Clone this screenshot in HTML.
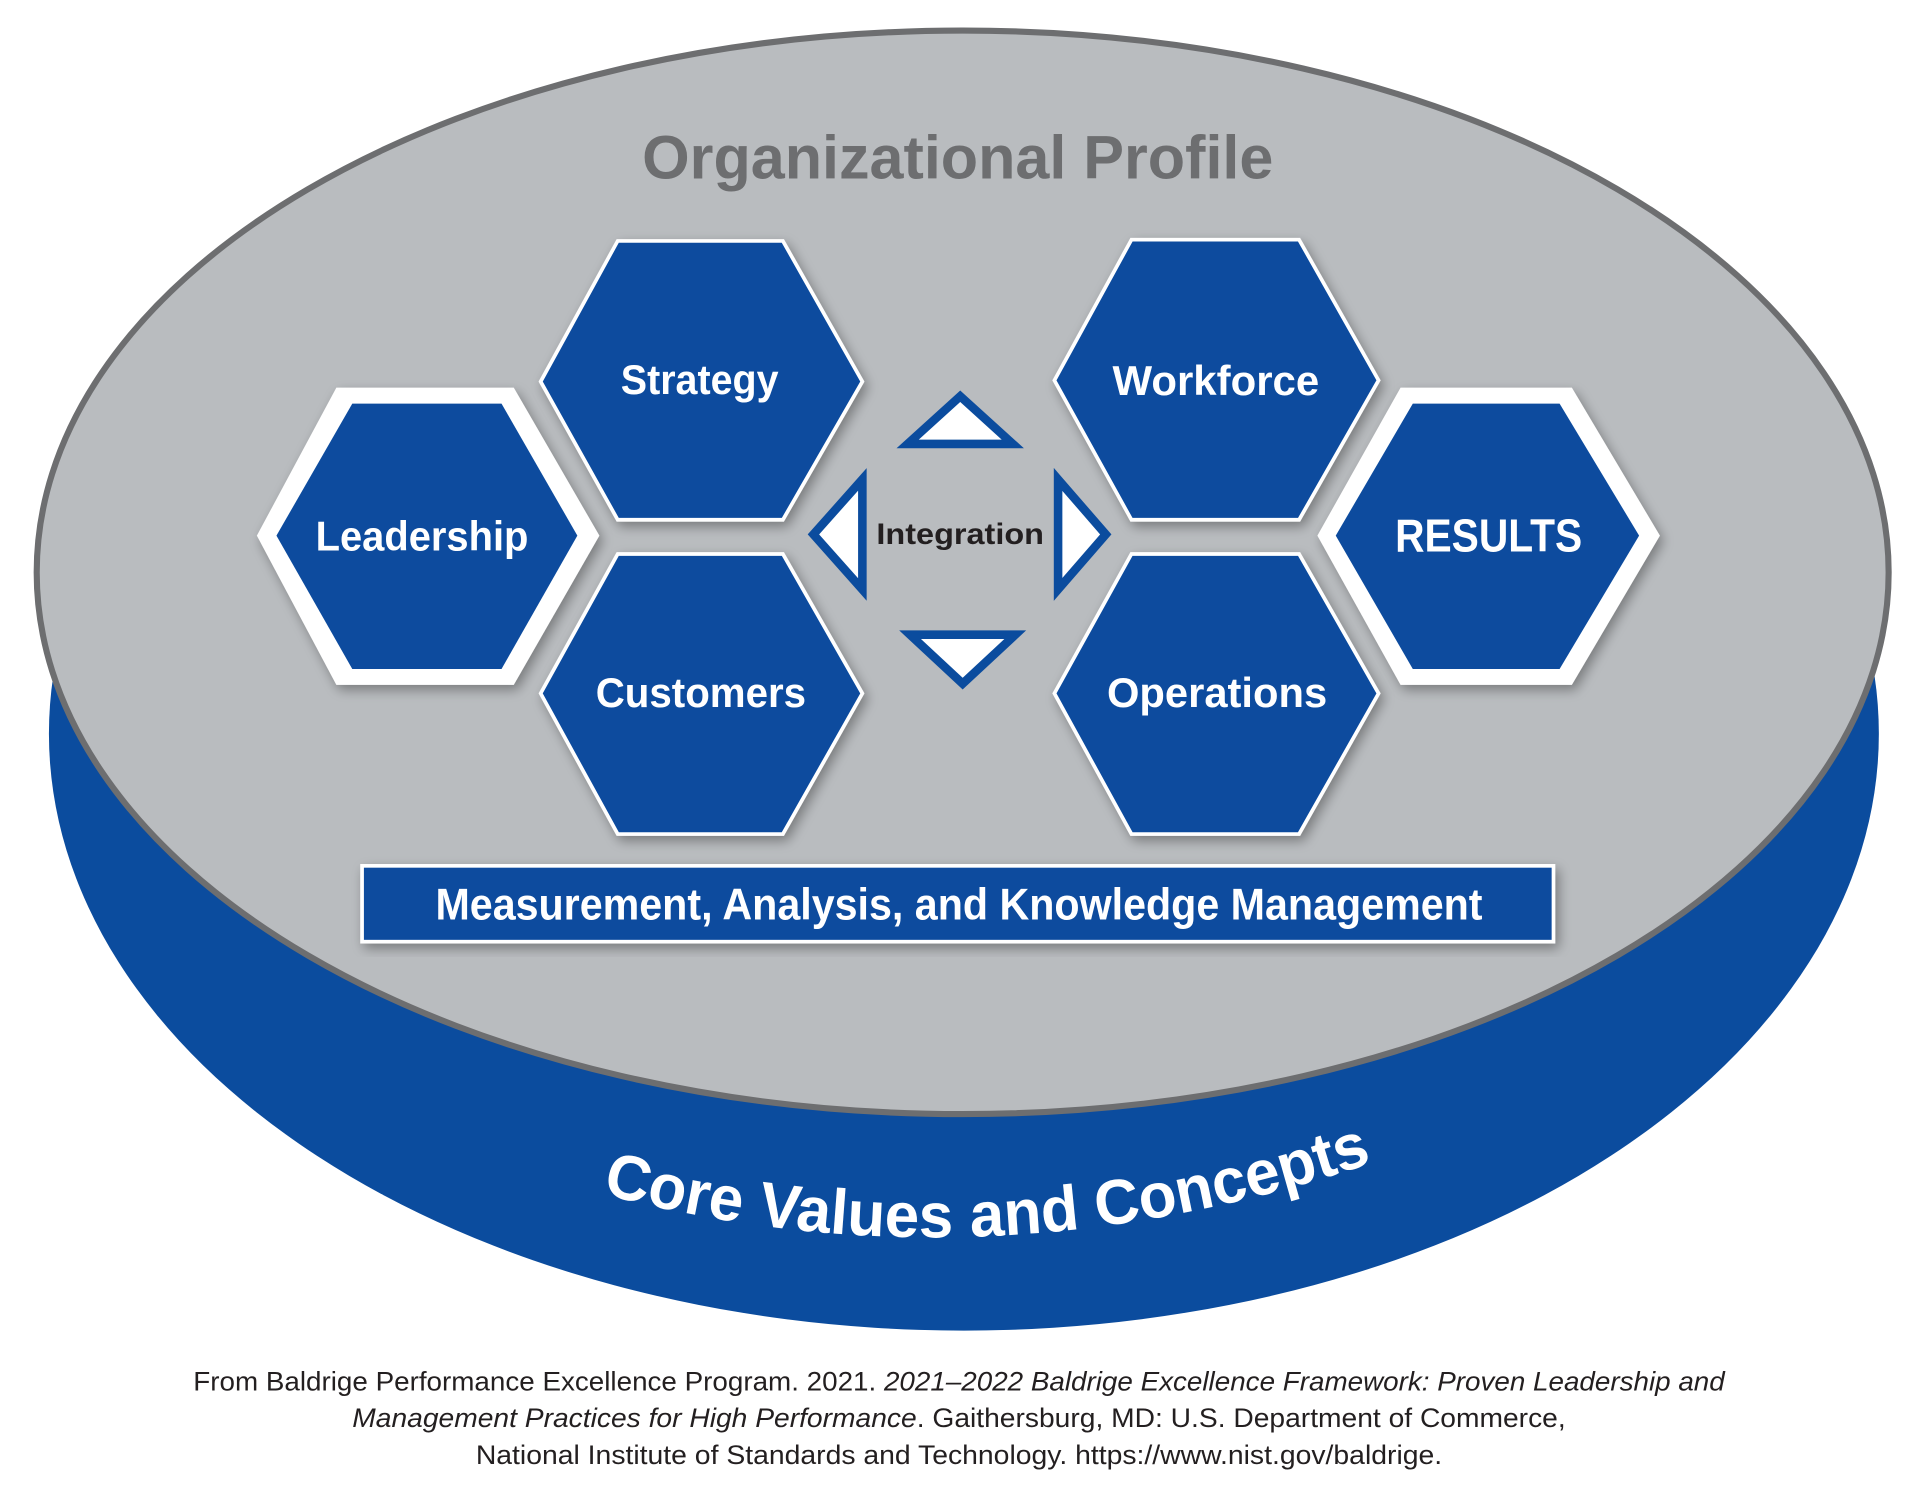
<!DOCTYPE html>
<html><head><meta charset="utf-8"><style>
html,body{margin:0;padding:0;background:#fff;width:1918px;height:1492px;overflow:hidden}
svg{display:block}
text{font-family:"Liberation Sans",sans-serif}
</style></head><body>
<svg width="1918" height="1492" viewBox="0 0 1568 1220" preserveAspectRatio="none" xmlns="http://www.w3.org/2000/svg">
<defs>
<filter id="sh" x="-20%" y="-20%" width="140%" height="140%"><feGaussianBlur in="SourceAlpha" stdDeviation="5"/><feOffset dx="3" dy="4"/><feComponentTransfer><feFuncA type="linear" slope="0.35"/></feComponentTransfer><feMerge><feMergeNode/><feMergeNode in="SourceGraphic"/></feMerge></filter>
<path id="arc" d="M 492 976 Q 800 1058 1118 952" fill="none"/>
</defs>
<rect width="1568" height="1220" fill="#fff"/>
<ellipse cx="788" cy="600" rx="748" ry="488" fill="#0b4c9e"/>
<ellipse cx="787" cy="468" rx="757" ry="443" fill="#b9bcbf" stroke="#6d6e70" stroke-width="5"/>
<text x="783" y="146" text-anchor="middle" font-size="50" font-weight="bold" fill="#6d6e70" textLength="516" lengthAdjust="spacingAndGlyphs">Organizational Profile</text>

<g fill="#0b4c9e" stroke="#fff" stroke-width="3" filter="url(#sh)">
<polygon points="442,312 505,197 640,197 705,312 640,425 505,425"/>
<polygon points="442,567 505,453 640,453 705,567 640,682 505,682"/>
<polygon points="862,311 925,196 1062,196 1127,311 1062,425 925,425"/>
<polygon points="862,567 925,453 1062,453 1127,567 1062,682 925,682"/>
</g>
<g filter="url(#sh)">
<polygon points="210,438 275,317 420,317 490,438 420,560 275,560" fill="#fff"/>
<polygon points="226,438 288,330 410,330 472,438 410,547 288,547" fill="#0b4c9e"/>
<polygon points="1077,438 1145,317 1285,317 1357,438 1285,560 1145,560" fill="#fff"/>
<polygon points="1092,438 1155,330 1275,330 1340,438 1275,547 1155,547" fill="#0b4c9e"/>
</g>

<g fill="#fff" stroke="#0b4c9e" stroke-width="7" stroke-linejoin="miter">
<polygon points="785,324 742,363 828,363"/>
<polygon points="744,519 830,519 787,559"/>
<polygon points="705,392 665,437 705,482"/>
<polygon points="865,392 904,437 865,482"/>
</g>
<text x="785" y="445" text-anchor="middle" font-size="24" font-weight="bold" fill="#231f20" textLength="137" lengthAdjust="spacingAndGlyphs">Integration</text>

<g fill="#fff" font-size="34" font-weight="bold" text-anchor="middle">
<text x="572" y="322" textLength="129" lengthAdjust="spacingAndGlyphs">Strategy</text>
<text x="573" y="578" textLength="172" lengthAdjust="spacingAndGlyphs">Customers</text>
<text x="994" y="323" textLength="169" lengthAdjust="spacingAndGlyphs">Workforce</text>
<text x="995" y="578" textLength="180" lengthAdjust="spacingAndGlyphs">Operations</text>
<text x="345" y="450" textLength="174" lengthAdjust="spacingAndGlyphs">Leadership</text>
<text x="1217" y="451" font-size="38" textLength="153" lengthAdjust="spacingAndGlyphs">RESULTS</text>
</g>

<rect x="296" y="708" width="974" height="62" fill="#0b4c9e" stroke="#fff" stroke-width="3" filter="url(#sh)"/>
<text x="784" y="752" text-anchor="middle" font-size="36" font-weight="bold" fill="#fff" textLength="856" lengthAdjust="spacingAndGlyphs">Measurement, Analysis, and Knowledge Management</text>

<text font-size="52" font-weight="bold" fill="#fff" textLength="640" lengthAdjust="spacingAndGlyphs"><textPath href="#arc" startOffset="0">Core Values and Concepts</textPath></text>

<g font-size="22" fill="#231f20" text-anchor="middle">
<text x="784" y="1137" textLength="1252" lengthAdjust="spacingAndGlyphs">From Baldrige Performance Excellence Program. 2021. <tspan font-style="italic">2021–2022 Baldrige Excellence Framework: Proven Leadership and</tspan></text>
<text x="784" y="1167" textLength="992" lengthAdjust="spacingAndGlyphs"><tspan font-style="italic">Management Practices for High Performance</tspan>. Gaithersburg, MD: U.S. Department of Commerce,</text>
<text x="784" y="1197" textLength="790" lengthAdjust="spacingAndGlyphs">National Institute of Standards and Technology. https://www.nist.gov/baldrige.</text>
</g>
</svg>
</body></html>
